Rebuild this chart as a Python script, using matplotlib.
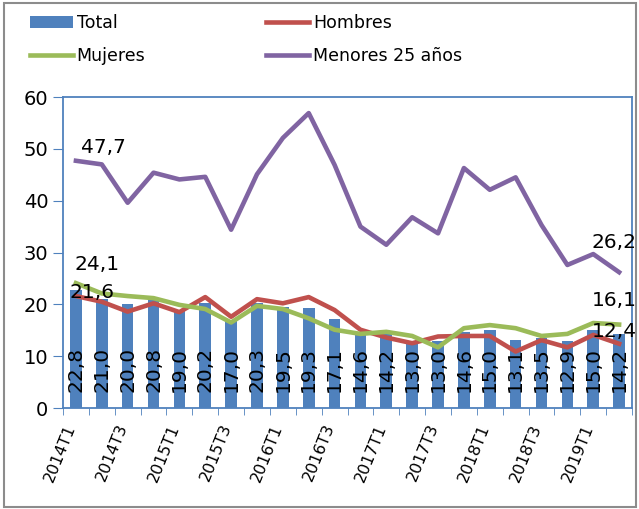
import numpy as np
import matplotlib
matplotlib.use('Agg')
from matplotlib import pyplot as plt
from matplotlib.patches import Rectangle
from matplotlib.transforms import ScaledTranslation

# trimestres 2014T1 .. 2019T2
trimestres = [f'{a}T{t}' for a in range(2014, 2020) for t in range(1, 5)][:22]

total = [22.8, 21.0, 20.0, 20.8, 19.0, 20.2, 17.0, 20.3, 19.5, 19.3, 17.1,
         14.6, 14.2, 13.0, 13.0, 14.6, 15.0, 13.1, 13.5, 12.9, 15.0, 14.2]
hombres = [21.6, 20.5, 18.6, 20.2, 18.5, 21.4, 17.6, 21.0, 20.2, 21.4, 18.9,
           15.1, 13.6, 12.5, 13.8, 13.9, 13.9, 10.9, 13.1, 11.7, 14.1, 12.4]
mujeres = [24.1, 22.1, 21.6, 21.2, 19.9, 19.1, 16.5, 19.7, 19.1, 17.3, 15.1,
           14.3, 14.7, 13.9, 11.7, 15.4, 16.0, 15.4, 13.9, 14.3, 16.4, 16.1]
menores25 = [47.7, 47.0, 39.6, 45.4, 44.1, 44.6, 34.4, 45.1, 52.1, 56.9, 46.9,
             35.0, 31.5, 36.8, 33.7, 46.3, 42.1, 44.5, 35.3, 27.6, 29.7, 26.2]

azul = '#4F81BD'
rojo = '#C0504D'
verde = '#9BBB59'
morado = '#8064A2'

fig = plt.figure(figsize=(6.39, 5.09), dpi=100)
fig.patches.append(Rectangle((0.006, 0.004), 0.989, 0.99, transform=fig.transFigure,
                             fill=False, edgecolor='#8c8c8c', linewidth=1.5))
ax = fig.add_axes([0.0986, 0.1984, 0.8905, 0.611])

x = np.arange(len(trimestres))
b = ax.bar(x, total, width=0.45, color=azul, label='Total', zorder=2)
lh, = ax.plot(x, hombres, color=rojo, lw=3.3, label='Hombres', zorder=3)
lm, = ax.plot(x, mujeres, color=verde, lw=3.3, label='Mujeres', zorder=3)
l25, = ax.plot(x, menores25, color=morado, lw=3.3, label='Menores 25 años', zorder=3)

# etiquetas de las barras
for xi, v in zip(x, total):
    ax.text(xi, 3.0, f'{v:.1f}'.replace('.', ','), rotation=90, ha='center',
            va='bottom', fontsize=14.5, zorder=4)

# etiquetas de los extremos
ax.text(0.2, 48.4, '47,7', fontsize=14.5, ha='left', va='bottom')
ax.text(-0.05, 27.6, '24,1', fontsize=14.5, ha='left', va='center')
ax.text(-0.25, 22.2, '21,6', fontsize=14.5, ha='left', va='center')
ax.text(19.95, 31.9, '26,2', fontsize=14.5, ha='left', va='center', clip_on=False)
ax.text(19.95, 20.8, '16,1', fontsize=14.5, ha='left', va='center', clip_on=False)
ax.text(19.95, 14.7, '12,4', fontsize=14.5, ha='left', va='center', clip_on=False)

ax.set_xlim(-0.5, len(trimestres) - 0.5)
ax.set_ylim(0, 60)
ax.set_yticks(range(0, 61, 10))
ax.tick_params(axis='y', labelsize=14, length=7, color=azul, direction='out')

ax.set_xticks(x[::2])
ax.set_xticklabels(trimestres[::2], rotation=68, ha='right',
                   rotation_mode='anchor', fontsize=11.5)
ax.tick_params(axis='x', length=0, pad=10)
desplaza = ScaledTranslation(-8 / 72, 0, fig.dpi_scale_trans)
for t in ax.get_xticklabels():
    t.set_transform(t.get_transform() + desplaza)
ax.set_xticks(np.arange(-0.5, len(trimestres)), minor=True)
ax.tick_params(axis='x', which='minor', length=5, color=azul)

for s in ax.spines.values():
    s.set_color(azul)
    s.set_linewidth(1.3)

fig.legend([b, lm, lh, l25], ['Total', 'Mujeres', 'Hombres', 'Menores 25 años'],
           loc='upper left', bbox_to_anchor=(0.022, 1.003), ncol=2, frameon=False,
           fontsize=12.5, handlelength=2.5, handletextpad=0.2, columnspacing=6.95,
           labelspacing=0.85)

fig.savefig('out.png', dpi=100)
